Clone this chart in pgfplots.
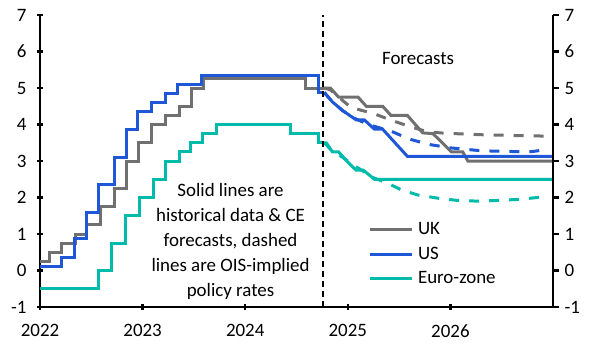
\documentclass[border=0pt]{standalone}
\usepackage{pgfplots}
\pgfplotsset{compat=1.18}
\usepackage{fontspec}
\setmainfont{Carlito}
\definecolor{ukgrey}{RGB}{112,112,112}
\definecolor{usblue}{RGB}{31,88,214}
\definecolor{ezteal}{RGB}{0,186,170}
\begin{document}
\fontsize{19}{23}\selectfont
\begin{tikzpicture}
\pgfplotsset{
  common/.style={
    scale only axis, width=513bp, height=292bp,
    xmin=2022, xmax=2027, ymin=-1, ymax=7,
    ytick={-1,0,...,7},
    tick align=outside, major tick length=6bp,
    every tick/.style={black, line width=2.5bp},
    /pgf/number format/assume math mode=true,
    /pgf/number format/1000 sep={},
    ticklabel style={font=\fontsize{19}{23}\selectfont},
  },
  nolinearrows/.style={
    axis line style={line width=2.5bp, -},
    every outer x axis line/.append style={-},
    every outer y axis line/.append style={-},
    every inner x axis line/.append style={-},
    every inner y axis line/.append style={-},
  }
}
\begin{axis}[common, at={(0,0)}, anchor=south west,
  axis x line=bottom, axis y line=left, nolinearrows,
  xtick={2022,2023,2024,2025,2026},
  xticklabel style={yshift=-8bp},
  yticklabel style={xshift=-4bp},
  legend style={draw=none, fill=none, at={(axis description cs:0.639,0.1815)}, anchor=west,
    inner sep=0pt, row sep=6.5bp, column sep=5bp,
    nodes={inner sep=0pt, text height=14bp, text depth=4bp, font=\fontsize{19}{23}\selectfont}},
  legend cell align=left,
  legend image code/.code={\draw[#1] (0bp,0bp) -- (42bp,0bp);},
]
% UK
\addplot[ukgrey, line width=3bp, const plot, forget plot] coordinates {
(2022.0,0.25) (2022.093,0.5) (2022.208,0.75) (2022.342,1.0) (2022.457,1.25)
(2022.592,1.75) (2022.726,2.25) (2022.841,3.0) (2022.956,3.5) (2023.090,4.0)
(2023.225,4.25) (2023.359,4.5) (2023.474,5.0) (2023.589,5.25) (2024.585,5.0) (2024.77,5.0)};
\addplot[ukgrey, line width=3bp, dash pattern=on 10bp off 10bp, forget plot] coordinates {
(2024.77,5.0) (2024.83,4.95) (2024.91,4.75) (2025.03,4.47) (2025.27,4.28) (2025.44,4.1)
(2025.62,3.93) (2025.78,3.8) (2025.95,3.76) (2026.3,3.72) (2026.6,3.70) (2026.96,3.68)};
\addplot[ukgrey, line width=3bp] coordinates {
(2024.77,5.0) (2024.83,5.0) (2024.91,4.75) (2025.10,4.75) (2025.18,4.5) (2025.34,4.5)
(2025.42,4.25) (2025.58,4.25) (2025.73,3.77) (2025.83,3.75) (2026.01,3.25) (2026.12,3.25)
(2026.17,3.0) (2027.0,3.0)};
\addlegendentry{UK}
% US
\addplot[usblue, line width=3bp, const plot, forget plot] coordinates {
(2022.0,0.1) (2022.21,0.35) (2022.34,0.88) (2022.455,1.6) (2022.57,2.35) (2022.725,3.1)
(2022.84,3.85) (2022.955,4.35) (2023.09,4.6) (2023.225,4.85) (2023.34,5.1) (2023.57,5.35)
(2024.715,4.88) (2024.77,4.88)};
\addplot[usblue, line width=3bp, dash pattern=on 10bp off 10bp, forget plot] coordinates {
(2024.77,4.88) (2024.85,4.62) (2024.95,4.38) (2025.08,4.15) (2025.2,4.0) (2025.32,3.9)
(2025.42,3.82) (2025.6,3.6) (2025.8,3.45) (2026.0,3.36) (2026.3,3.28) (2026.6,3.26)
(2026.8,3.26) (2026.96,3.32)};
\addplot[usblue, line width=3bp] coordinates {
(2024.77,4.88) (2024.85,4.62) (2024.95,4.38) (2025.08,4.13) (2025.16,4.13) (2025.26,3.87)
(2025.34,3.87) (2025.58,3.13) (2027.0,3.13)};
\addlegendentry{US}
% Euro-zone
\addplot[ezteal, line width=3bp, const plot, forget plot] coordinates {
(2022.0,-0.5) (2022.57,0.0) (2022.70,0.75) (2022.836,1.5) (2022.97,2.0) (2023.105,2.5)
(2023.22,3.0) (2023.355,3.25) (2023.47,3.5) (2023.585,3.75) (2023.72,4.0) (2024.445,3.75)
(2024.71,3.5) (2024.77,3.5)};
\addplot[ezteal, line width=3bp, dash pattern=on 10bp off 10bp, forget plot] coordinates {
(2024.77,3.5) (2024.85,3.27) (2024.95,3.1) (2025.05,2.9) (2025.15,2.72) (2025.26,2.53)
(2025.39,2.39) (2025.52,2.21) (2025.68,2.07) (2025.88,1.98) (2026.07,1.92) (2026.27,1.90)
(2026.47,1.92) (2026.67,1.95) (2026.85,2.0) (2026.92,2.03)};
\addplot[ezteal, line width=3bp] coordinates {
(2024.77,3.5) (2024.79,3.5) (2024.85,3.25) (2024.91,3.25) (2024.99,3.0) (2025.08,2.75)
(2025.15,2.75) (2025.26,2.5) (2027.0,2.5)};
\addlegendentry{Euro-zone}
% forecast divider
\addplot[black, line width=1.6bp, dash pattern=on 6bp off 4bp, forget plot] coordinates {(2024.757,-1) (2024.757,7)};
\node[align=center, font=\fontsize{19}{25}\selectfont] at (axis cs:2023.857,0.80)
  {Solid lines are\\historical data \& CE\\forecasts, dashed\\lines are OIS-implied\\policy rates};
\node[font=\fontsize{19}{23}\selectfont] at (axis cs:2025.685,5.80) {Forecasts};
\end{axis}
\begin{axis}[common, at={(0,0)}, anchor=south west,
  axis x line=none, axis y line*=right, nolinearrows,
  yticklabel style={xshift=-1bp},
]
\addplot[draw=none] coordinates {(2022,0)};
\end{axis}
\pgfresetboundingbox
\path (-40bp,-47bp) rectangle (564bp,307bp);
\end{tikzpicture}
\end{document}
